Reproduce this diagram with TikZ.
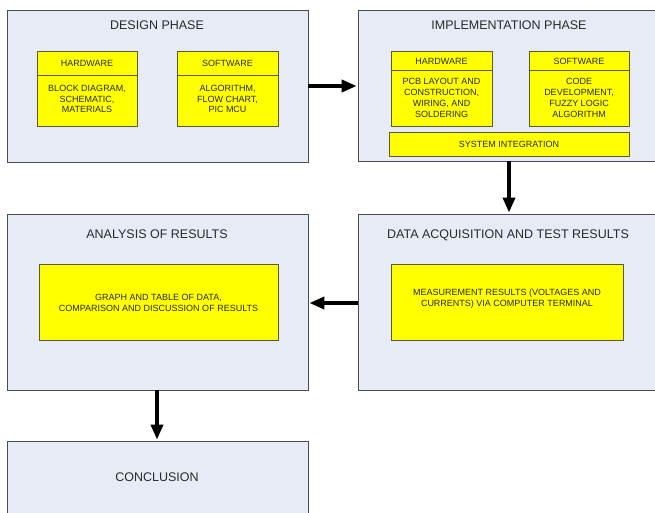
\documentclass[tikz,border=0pt]{standalone}
\usepackage{fontspec}
\setmainfont{Liberation Sans}
\usetikzlibrary{arrows.meta}
\definecolor{panel}{HTML}{E6EBF5}
\definecolor{panelline}{HTML}{4A4A4A}
\definecolor{yel}{HTML}{FFFF00}
\definecolor{yelline}{HTML}{5A5A3A}
\definecolor{txt}{HTML}{2A2A2A}
\tikzset{
  panelbox/.style={draw=panelline, fill=panel, line width=0.8pt, inner sep=0pt},
  yelbox/.style={draw=yelline, fill=yel, line width=0.8pt, inner sep=0pt},
  title/.style={text=txt, font=\fontsize{12.5}{15}\selectfont, inner sep=0pt},
  small/.style={text=txt, font=\fontsize{9}{10.8}\selectfont, align=center, inner sep=0pt},
  arr/.style={line width=3.6pt, -{Triangle[length=15pt,width=12pt]}, shorten >=1pt}
}
\begin{document}
\begin{tikzpicture}[x=1pt,y=-1pt]
\useasboundingbox (0,0) rectangle (655,513);
% panels
\node[panelbox, minimum width=301pt, minimum height=152pt] (design) at (157.5,86) {};
\node[panelbox, minimum width=298pt, minimum height=151pt] (impl) at (507,85.5) {};
\node[panelbox, minimum width=298pt, minimum height=176pt] (data) at (507,302) {};
\node[panelbox, minimum width=301pt, minimum height=176pt] (analysis) at (157.5,302) {};
\node[panelbox, minimum width=301pt, minimum height=79pt] (concl) at (157.5,480.5) {};
% titles
\node[title] (tdesign) at (157,25) {DESIGN PHASE};
\node[title] (timpl) at (509,25) {IMPLEMENTATION PHASE};
\node[title] (tdata) at (508,235) {DATA ACQUISITION AND TEST RESULTS};
\node[title] (tanalysis) at (157,234) {ANALYSIS OF RESULTS};
\node[title] (tconcl) at (157,477) {CONCLUSION};
% design inner boxes
\node[yelbox, minimum width=100pt, minimum height=75pt] (dhw) at (87,88.5) {};
\draw[yelline, line width=0.8pt] (dhw.west |- 0,75) coordinate (dhwl) -- (dhw.east |- 0,75) coordinate (dhwr);
\node[small] (dhwh) at (87,63) {HARDWARE};
\node[small] (dhwb) at (87,99) {BLOCK DIAGRAM,\\SCHEMATIC,\\MATERIALS};
\node[yelbox, minimum width=101pt, minimum height=75pt] (dsw) at (227.5,88.5) {};
\draw[yelline, line width=0.8pt] (dsw.west |- 0,75) coordinate (dswl) -- (dsw.east |- 0,75) coordinate (dswr);
\node[small] (dswh) at (227.5,63) {SOFTWARE};
\node[small] (dswb) at (227.5,99) {ALGORITHM,\\FLOW CHART,\\PIC MCU};
% implementation inner boxes
\node[yelbox, minimum width=101pt, minimum height=75pt] (ihw) at (441.5,88.5) {};
\draw[yelline, line width=0.8pt] (ihw.west |- 0,70) coordinate (ihwl) -- (ihw.east |- 0,70) coordinate (ihwr);
\node[small] (ihwh) at (441.5,61) {HARDWARE};
\node[small] (ihwb) at (441.5,98) {PCB LAYOUT AND\\CONSTRUCTION,\\WIRING, AND\\SOLDERING};
\node[yelbox, minimum width=100pt, minimum height=75pt] (isw) at (579,88.5) {};
\draw[yelline, line width=0.8pt] (isw.west |- 0,70) coordinate (iswl) -- (isw.east |- 0,70) coordinate (iswr);
\node[small] (iswh) at (579,61) {SOFTWARE};
\node[small] (iswb) at (579,98) {CODE\\DEVELOPMENT,\\FUZZY LOGIC\\ALGORITHM};
\node[yelbox, minimum width=240pt, minimum height=24pt] (sys) at (509,144) {};
\node[small] (syst) at (509,144) {SYSTEM INTEGRATION};
% data / analysis inner boxes
\node[yelbox, minimum width=232pt, minimum height=76pt] (dbox) at (507,302) {};
\node[small] (dtext) at (507,298.5) {MEASUREMENT RESULTS (VOLTAGES AND\\CURRENTS) VIA COMPUTER TERMINAL};
\node[yelbox, minimum width=239pt, minimum height=76pt] (abox) at (158.5,302) {};
\node[small] (atext) at (158.5,302.5) {GRAPH AND TABLE OF DATA,\\COMPARISON AND DISCUSSION OF RESULTS};
% arrows
\draw[arr] (design.east) -- (impl.west |- design.east);
\draw[arr] (impl.south -| sys) -- (data.north -| sys);
\draw[arr] (data.west |- 0,303) -- (analysis.east |- 0,303);
\draw[arr] (analysis.south -| tconcl) -- (concl.north -| tconcl);
\end{tikzpicture}
\end{document}
